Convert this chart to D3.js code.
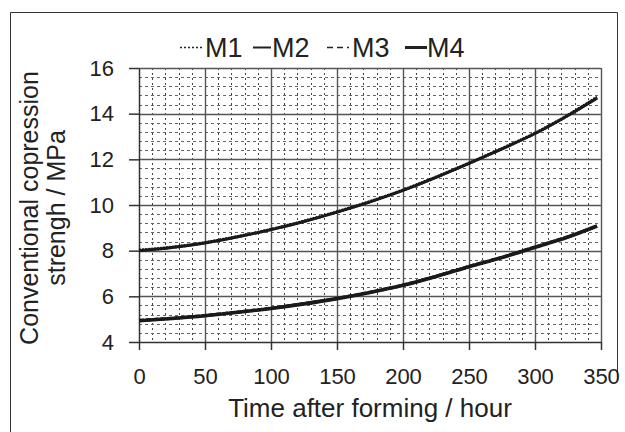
<!DOCTYPE html>
<html><head><meta charset="utf-8">
<script src="https://cdn.jsdelivr.net/npm/d3@7"></script>
<style>body{margin:0;background:#fff}svg{display:block}</style>
</head><body>
<svg id="c" width="625" height="432"></svg>
<script>
const hours = [0,25,50,75,100,125,150,175,200,225,250,275,300,325,347];
const M1 = [8.02,8.15,8.35,8.62,8.93,9.29,9.70,10.15,10.65,11.22,11.83,12.47,13.14,13.93,14.72];
const M2 = [8.00,8.14,8.34,8.61,8.92,9.28,9.69,10.14,10.64,11.21,11.82,12.46,13.13,13.92,14.68];
const M3 = [4.95,5.04,5.16,5.31,5.48,5.68,5.91,6.18,6.49,6.88,7.31,7.71,8.16,8.61,9.07];
const M4 = [4.93,5.03,5.15,5.30,5.47,5.67,5.90,6.17,6.48,6.87,7.30,7.70,8.15,8.60,9.08];
const seriesNames = ["M1","M2","M3","M4"];
const xTicks = [0,50,100,150,200,250,300,350];
const yTicks = [4,6,8,10,12,14,16];

const svg = d3.select("#c");
const FONT = "'Liberation Sans', Arial, sans-serif";
const x = d3.scaleLinear().domain([0,350]).range([139,601]);
const y = d3.scaleLinear().domain([4,16]).range([342,68]);

// outer border
svg.append("path").attr("d","M10.5,432 V12.5 H617.5 V380")
  .attr("fill","none").attr("stroke","#333").attr("stroke-width",1);

// minor grid
const g = svg.append("g");
g.selectAll(".mx").data(d3.range(10,350,10).filter(v=>v%50!==0)).join("line")
  .attr("x1",d=>Math.round(x(d))+0.5).attr("x2",d=>Math.round(x(d))+0.5).attr("y1",y(16)).attr("y2",y(4))
  .attr("stroke","#444").attr("stroke-width",1).attr("stroke-dasharray","2,3");
g.selectAll(".my").data(d3.range(4.4,16,0.4).filter(v=>Math.abs(v/2-Math.round(v/2))>0.01)).join("line")
  .attr("x1",x(0)).attr("x2",x(350)).attr("y1",d=>Math.round(y(d))+0.5).attr("y2",d=>Math.round(y(d))+0.5)
  .attr("stroke","#666").attr("stroke-width",1).attr("stroke-dasharray","3,3");
// major grid
g.selectAll(".Mx").data(xTicks.slice(1)).join("line")
  .attr("x1",d=>Math.round(x(d))+0.5).attr("x2",d=>Math.round(x(d))+0.5).attr("y1",y(16)).attr("y2",y(4))
  .attr("stroke","#555").attr("stroke-width",1.4);
g.selectAll(".My").data(yTicks.slice(1)).join("line")
  .attr("x1",x(0)).attr("x2",x(350)).attr("y1",d=>Math.round(y(d))+0.5).attr("y2",d=>Math.round(y(d))+0.5)
  .attr("stroke","#555").attr("stroke-width",1.4);

// axes
const xAxis = d3.axisBottom(x).tickValues(xTicks).tickSize(8).tickPadding(18).tickSizeOuter(0);
const yAxis = d3.axisLeft(y).tickValues(yTicks).tickSize(10).tickPadding(15).tickSizeOuter(0);
const gx = svg.append("g").attr("transform",`translate(0,${y(4)})`).call(xAxis);
const gy = svg.append("g").attr("transform",`translate(${x(0)},0)`).call(yAxis);
[gx,gy].forEach(a=>{
  a.selectAll("path,line").attr("stroke","#333").attr("stroke-width",1.5);
  a.selectAll("text").attr("font-family",FONT).attr("font-size",22).attr("fill","#222");
});

// lines
const line = d3.line().x((d,i)=>x(hours[i])).y(d=>y(d)).curve(d3.curveMonotoneX);
const styles = {
  M1:{w:3.2,dash:"2,1"}, M2:{w:3,dash:null}, M3:{w:3.2,dash:"5,2"}, M4:{w:3.6,dash:null}
};
[M1,M2,M3,M4].forEach((s,i)=>{
  const st = styles[seriesNames[i]];
  svg.append("path").datum(s).attr("d",line).attr("fill","none")
    .attr("stroke","#1a1a1a").attr("stroke-width",st.w)
    .attr("stroke-dasharray",st.dash);
});

// legend
const leg = svg.append("g").attr("font-family",FONT).attr("font-size",27).attr("fill","#222");
const legText = [205,272,352,427];
const legSym = [[180,204],[253,271],[327,349],[405,427]];
seriesNames.forEach((n,i)=>{
  svg.append("line").attr("x1",legSym[i][0]).attr("x2",legSym[i][1]).attr("y1",47.5).attr("y2",47.5)
    .attr("stroke","#222").attr("stroke-width",i===3?3:(i===1?2:1.6))
    .attr("stroke-dasharray", i===0?"2,2":(i===2?"6,4":null));
  leg.append("text").attr("x",legText[i]).attr("y",57).text(n);
});

// axis titles
svg.append("text").attr("x",370).attr("y",417).attr("text-anchor","middle")
  .attr("font-family",FONT).attr("font-size",26).attr("fill","#222").text("Time after forming / hour");
const yt = svg.append("text").attr("transform","translate(0,208) rotate(-90)")
  .attr("text-anchor","middle").attr("font-family",FONT).attr("font-size",25).attr("fill","#222");
yt.append("tspan").attr("x",0).attr("y",38).text("Conventional copression");
yt.append("tspan").attr("x",0).attr("y",65).text("strengh / MPa");
</script>
</body></html>
